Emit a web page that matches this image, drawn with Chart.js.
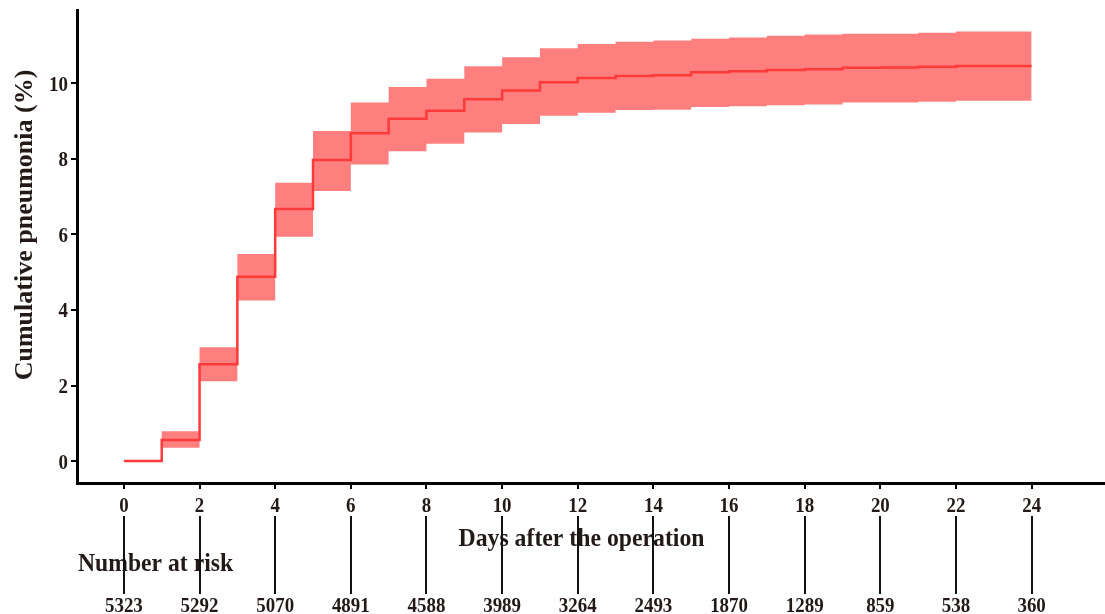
<!DOCTYPE html>
<html>
<head>
<meta charset="utf-8">
<script src="https://cdn.jsdelivr.net/npm/chart.js@4"></script>
<style>
  body { margin: 0; background: #fff; }
  #wrap { width: 1105px; height: 614px; position: relative; }
</style>
</head>
<body>
<div id="wrap"><canvas id="km"></canvas></div>
<script>
    // Data
    var days = [0, 1, 2, 3, 4, 5, 6, 7, 8, 9, 10, 11, 12, 13, 14, 15, 16, 17, 18, 19, 20, 21, 22, 23, 24];
    var estimate = [0, 0.56, 2.56, 4.88, 6.67, 7.97, 8.68, 9.06, 9.27, 9.58, 9.81, 10.03, 10.14,
        10.19, 10.21, 10.29, 10.32, 10.35, 10.37, 10.41, 10.42, 10.44, 10.46, 10.46, 10.46];
    var upper = [0, 0.79, 3.01, 5.48, 7.37, 8.74, 9.49, 9.90, 10.12, 10.45, 10.69, 10.93, 11.04,
        11.10, 11.13, 11.18, 11.21, 11.26, 11.29, 11.31, 11.31, 11.34, 11.37, 11.37, 11.37];
    var lower = [0, 0.35, 2.11, 4.25, 5.94, 7.15, 7.85, 8.20, 8.40, 8.70, 8.92, 9.14, 9.22,
        9.29, 9.30, 9.37, 9.39, 9.42, 9.44, 9.49, 9.49, 9.51, 9.54, 9.54, 9.54];

    var xTicks = [0, 2, 4, 6, 8, 10, 12, 14, 16, 18, 20, 22, 24];
    var yTicks = [0, 2, 4, 6, 8, 10];
    var atRisk = [5323, 5292, 5070, 4891, 4588, 3989, 3264, 2493, 1870, 1289, 859, 538, 360];

    var serif = '"Liberation Serif", "Times New Roman", serif';
    var ink = '#231a17';

    function pts(vals) {
        return days.map(function (d, i) { return { x: d, y: vals[i] }; });
    }

    // the original text is a bit narrow / tall, so squeeze it horizontally
    function txt(ctx, s, x, y, size, sx, align) {
        ctx.save();
        ctx.translate(x, y);
        ctx.scale(sx, 1);
        ctx.font = 'bold ' + size + 'px ' + serif;
        ctx.textAlign = align;
        ctx.textBaseline = 'alphabetic';
        ctx.fillText(s, 0, 0);
        ctx.restore();
    }

    // Tick labels, axis titles, risk table and the lines under the x axis
    var riskTable = {
        id: 'riskTable',
        afterDraw: function (chart) {
            var ctx = chart.ctx;
            var xs = chart.scales.x;
            var ys = chart.scales.y;
            ctx.save();
            ctx.fillStyle = ink;

            // tick labels
            xs.ticks.forEach(function (t) {
                txt(ctx, String(t.value), xs.getPixelForValue(t.value), 511.5, 22, 0.86, 'center');
            });
            ys.ticks.forEach(function (t) {
                txt(ctx, String(t.value), 68, ys.getPixelForValue(t.value) + 7.5, 22, 0.86, 'right');
            });

            // y title
            ctx.save();
            ctx.translate(32, 225);
            ctx.rotate(-Math.PI / 2);
            txt(ctx, 'Cumulative pneumonia (%)', 0, 0, 26, 1, 'center');
            ctx.restore();

            // x title
            txt(ctx, 'Days after the operation', xs.getPixelForValue(12.1), 546, 25, 0.95, 'center');

            // "Number at risk"
            txt(ctx, 'Number at risk', 78, 570.5, 26, 0.91, 'left');

            // numbers
            xTicks.forEach(function (d, i) {
                txt(ctx, String(atRisk[i]), xs.getPixelForValue(d), 612, 22, 0.86, 'center');
            });

            // vertical lines
            ctx.strokeStyle = '#111';
            ctx.lineWidth = 2;
            xTicks.forEach(function (d) {
                var px = Math.round(xs.getPixelForValue(d));
                ctx.beginPath();
                ctx.moveTo(px, 516);
                ctx.lineTo(px, 594);
                ctx.stroke();
            });
            ctx.restore();
        }
    };

    var ctx1 = document.getElementById('km').getContext('2d');
    new Chart(ctx1, {
        type: 'line',
        data: {
            datasets: [
                {
                    label: 'Estimate',
                    data: pts(estimate),
                    stepped: true,
                    borderColor: '#ff3a3a',
                    borderWidth: 2.5,
                    pointRadius: 0,
                    fill: false
                },
                {
                    label: 'Upper',
                    data: pts(upper),
                    stepped: true,
                    borderColor: 'rgba(0,0,0,0)',
                    borderWidth: 0,
                    pointRadius: 0,
                    backgroundColor: 'rgba(255, 0, 0, 0.5)',
                    fill: '+1'
                },
                {
                    label: 'Lower',
                    data: pts(lower),
                    stepped: true,
                    borderColor: 'rgba(0,0,0,0)',
                    borderWidth: 0,
                    pointRadius: 0,
                    fill: false
                }
            ]
        },
        options: {
            responsive: true,
            maintainAspectRatio: false,
            animation: false,
            layout: { padding: { top: 10, right: 0, left: 0, bottom: 0 } },
            plugins: {
                legend: { display: false },
                tooltip: { enabled: false }
            },
            scales: {
                x: {
                    type: 'linear',
                    min: -1.24,
                    max: 25.94,
                    afterBuildTicks: function (s) {
                        s.ticks = xTicks.map(function (v) { return { value: v }; });
                    },
                    afterFit: function (s) { s.height = 131; },
                    border: { display: true, color: '#000', width: 3 },
                    grid: { drawOnChartArea: false, drawTicks: true, tickLength: 6, color: '#000', lineWidth: 2 },
                    ticks: { display: false }
                },
                y: {
                    min: -0.58,
                    max: 11.94,
                    afterBuildTicks: function (s) {
                        s.ticks = yTicks.map(function (v) { return { value: v }; });
                    },
                    afterFit: function (s) { s.width = 77; },
                    border: { display: true, color: '#000', width: 3 },
                    grid: { drawOnChartArea: false, drawTicks: true, tickLength: 6, color: '#000', lineWidth: 2 },
                    ticks: { display: false }
                }
            }
        },
        plugins: [riskTable]
    });
</script>
</body>
</html>
